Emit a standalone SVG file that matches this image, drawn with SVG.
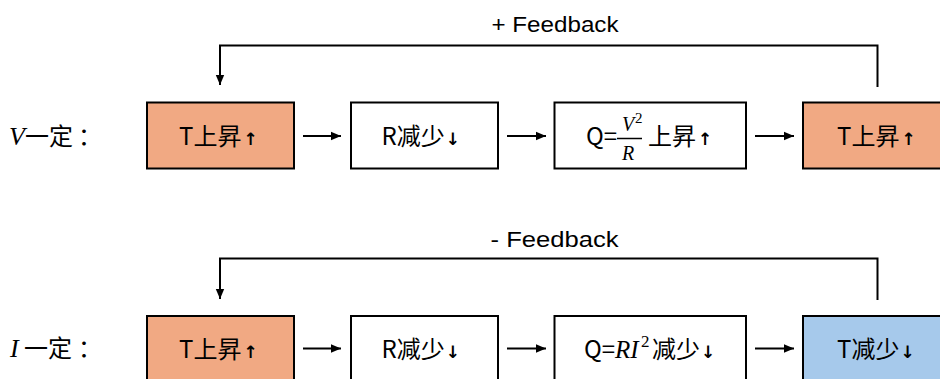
<svg xmlns="http://www.w3.org/2000/svg" width="940" height="379" viewBox="0 0 940 379">
<defs>
<style>
.box{stroke:#000;stroke-width:2}
.hot{fill:#F1A983}
.cold{fill:#A6C9EB}
.plain{fill:#fff}
.t{font-family:"Noto Sans CJK SC","Noto Sans",sans-serif;font-size:24px;fill:#000}
.m{font-family:"Liberation Serif","DejaVu Serif",serif;font-style:italic;fill:#000}
.arr{font-family:"DejaVu Sans",sans-serif;font-size:17px;font-weight:bold}
.sup{font-family:"Liberation Serif","DejaVu Serif",serif;font-size:17px;fill:#000}
.fb{font-family:"Liberation Sans",Arial,sans-serif;font-size:22px;fill:#000}
.c{fill:none;stroke:#000;stroke-width:2}
</style>
<marker id="ah" markerUnits="userSpaceOnUse" markerWidth="10" markerHeight="10" refX="10" refY="5" orient="auto">
<path d="M0,0.8 L10,5 L0,9.2 z" fill="#000"/>
</marker>
</defs>
<rect width="940" height="379" fill="#fff"/>

<g id="label-v"><text class="t" y="145"><tspan class="m" x="9" font-size="26">V</tspan><tspan x="25">一定</tspan><tspan x="78">：</tspan></text></g>
<g id="label-i"><text class="t" y="357"><tspan class="m" x="10" font-size="26">I</tspan><tspan x="24">一定</tspan><tspan x="78">：</tspan></text></g>

<g id="fb-pos-label"><text class="fb" x="491.5" y="31.5" textLength="127" lengthAdjust="spacingAndGlyphs">+ Feedback</text></g>
<g id="fb-neg-label"><text class="fb" x="490.5" y="246.5" textLength="128" lengthAdjust="spacingAndGlyphs">- Feedback</text></g>

<g id="connectors">
<line class="c" x1="303" y1="136" x2="341" y2="136" marker-end="url(#ah)"/>
<line class="c" x1="507" y1="136" x2="546" y2="136" marker-end="url(#ah)"/>
<line class="c" x1="755" y1="136" x2="794" y2="136" marker-end="url(#ah)"/>
<path class="c" d="M877.5,87 V45.5 H220 V85" marker-end="url(#ah)"/>
<line class="c" x1="303" y1="348.5" x2="341" y2="348.5" marker-end="url(#ah)"/>
<line class="c" x1="507" y1="348.5" x2="546" y2="348.5" marker-end="url(#ah)"/>
<line class="c" x1="755" y1="348.5" x2="794" y2="348.5" marker-end="url(#ah)"/>
<path class="c" d="M877.5,300 V258.5 H220 V299" marker-end="url(#ah)"/>
</g>

<g id="v-t1"><rect class="box hot" x="147" y="102.5" width="147" height="66"/><text class="t" x="179" y="145">T上昇<tspan class="arr" dx="2">↑</tspan></text></g>
<g id="v-r"><rect class="box plain" x="351" y="102.5" width="147" height="66"/><text class="t" x="381.5" y="145">R减少<tspan class="arr" dx="1">↓</tspan></text></g>
<g id="v-q"><rect class="box plain" x="554.5" y="102.5" width="191.5" height="66"/>
<text class="t" x="586" y="145">Q=</text>
<line x1="617" y1="138.5" x2="642" y2="138.5" stroke="#000" stroke-width="1.5"/>
<text class="m" x="622" y="131" font-size="20">V</text>
<text class="sup" x="635" y="123" style="font-size:15px">2</text>
<text class="m" x="622" y="160" font-size="20">R</text>
<text class="t" x="648" y="145">上昇<tspan class="arr" dx="2">↑</tspan></text>
</g>
<g id="v-t2"><rect class="box hot" x="803" y="102.5" width="147" height="66"/><text class="t" x="837" y="145">T上昇<tspan class="arr" dx="2">↑</tspan></text></g>

<g id="i-t1"><rect class="box hot" x="147" y="316" width="147" height="66"/><text class="t" x="179" y="358">T上昇<tspan class="arr" dx="2">↑</tspan></text></g>
<g id="i-r"><rect class="box plain" x="351" y="316" width="147" height="66"/><text class="t" x="381.5" y="358">R减少<tspan class="arr" dx="1">↓</tspan></text></g>
<g id="i-q"><rect class="box plain" x="554.5" y="316" width="191.5" height="66"/>
<text class="t" x="584" y="358">Q=</text>
<text class="m" x="615" y="358" font-size="25">RI</text>
<text class="sup" x="641" y="347">2</text>
<text class="t" x="652" y="358">减少<tspan class="arr" dx="1">↓</tspan></text>
</g>
<g id="i-t2"><rect class="box cold" x="803" y="316" width="147" height="66"/><text class="t" x="837" y="358">T减少<tspan class="arr" dx="1">↓</tspan></text></g>
</svg>
